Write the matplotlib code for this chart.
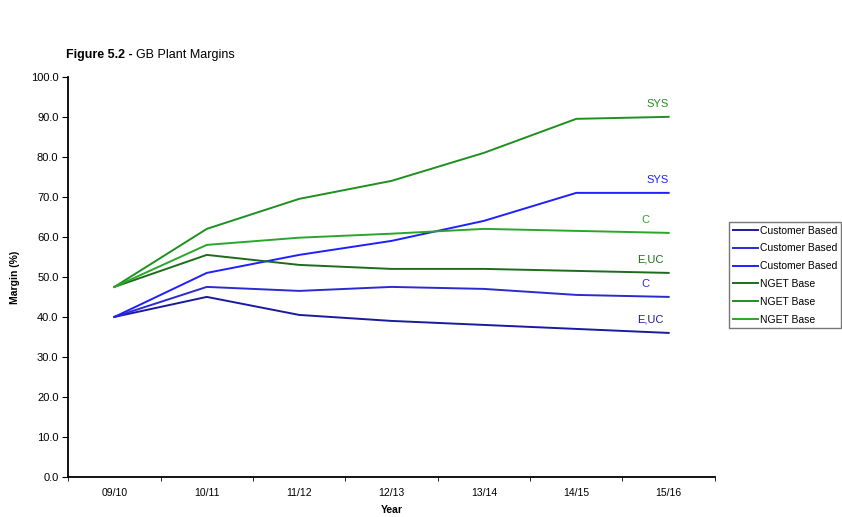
import matplotlib
matplotlib.use("Agg")
import matplotlib.pyplot as plt
from matplotlib.ticker import FixedLocator

plt.rcParams['font.family'] = ['Liberation Sans', 'DejaVu Sans']

years = ["09/10", "10/11", "11/12", "12/13", "13/14", "14/15", "15/16"]

cust_euc = [40.0, 45.0, 40.5, 39.0, 38.0, 37.0, 36.0]
cust_c = [40.0, 47.5, 46.5, 47.5, 47.0, 45.5, 45.0]
cust_sys = [40.0, 51.0, 55.5, 59.0, 64.0, 71.0, 71.0]
nget_euc = [47.5, 55.5, 53.0, 52.0, 52.0, 51.5, 51.0]
nget_sys = [47.5, 62.0, 69.5, 74.0, 81.0, 89.5, 90.0]
nget_c = [47.5, 58.0, 59.8, 60.8, 62.0, 61.5, 61.0]

series = [
    ("Customer Based", cust_euc, "#1a1a9e", "E,UC"),
    ("Customer Based", cust_c, "#2a2ad0", "C"),
    ("Customer Based", cust_sys, "#1f1fff", "SYS"),
    ("NGET Base", nget_euc, "#1d6b1d", "E,UC"),
    ("NGET Base", nget_sys, "#1f8f1f", "SYS"),
    ("NGET Base", nget_c, "#2aa62a", "C"),
]
label_dx = {"SYS": -0.12, "C": -0.25, "E,UC": -0.2}

fig = plt.figure(figsize=(8.42, 5.17), dpi=100)
ax = fig.add_axes([0.081, 0.0774, 0.768, 0.774])
x = list(range(len(years)))
handles = []
for name, vals, col, lab in series:
    h, = ax.plot(x, vals, color=col, lw=1.4, label=name)
    handles.append(h)
    ax.text(x[-1] + label_dx[lab], vals[-1] + 2.0, lab, color=col, fontsize=8, ha="center", va="bottom")

ax.set_xlim(-0.5, 6.5)
ax.set_ylim(0, 100)
ax.set_xticks(x)
ax.set_xticklabels(years, fontsize=7.5)
ax.xaxis.set_minor_locator(FixedLocator([i + 0.5 for i in range(-1, 7)]))
ax.tick_params(axis="x", which="major", length=0, pad=8)
ax.tick_params(axis="x", which="minor", length=3, direction="out")
ax.set_yticks(range(0, 101, 10))
ax.set_yticklabels([f"{v:.1f}" for v in range(0, 101, 10)], fontsize=8)
ax.tick_params(axis="y", length=4, direction="out", pad=3)
for s in ["top", "right"]:
    ax.spines[s].set_visible(False)
for s in ["left", "bottom"]:
    ax.spines[s].set_linewidth(1.3)
ax.set_ylabel("Margin (%)", fontsize=7.5, fontweight="bold", labelpad=8)
ax.set_xlabel("Year", fontsize=7.5, fontweight="bold", labelpad=5)

t1 = fig.text(66 / 842, 1 - 55 / 517, "Figure 5.2 - ", fontsize=9, fontweight="bold", va="center", ha="left")
fig.canvas.draw()
bb = t1.get_window_extent()
fig.text(bb.x1 / fig.bbox.width, 1 - 55 / 517, "GB Plant Margins", fontsize=9, va="center", ha="left")

leg = fig.legend(handles=handles, labels=[s[0] for s in series], loc="upper left",
                 bbox_to_anchor=(729 / 842, 1 - 222 / 517), fontsize=7.5, frameon=True,
                 fancybox=False, edgecolor="#555555", handlelength=2.4, handletextpad=0.2,
                 borderpad=0.35, labelspacing=0.75, borderaxespad=0)

fig.savefig("out.png", dpi=100)
